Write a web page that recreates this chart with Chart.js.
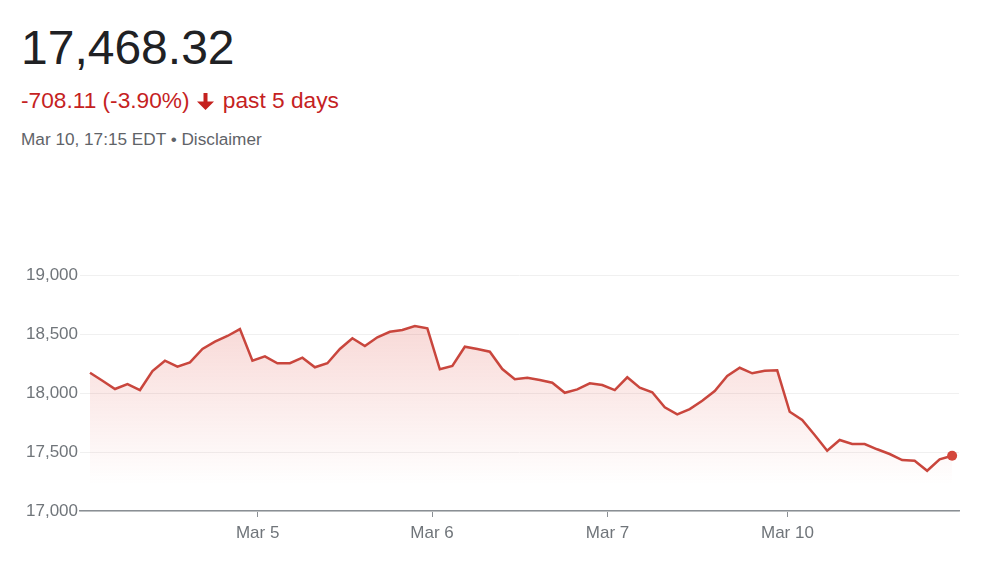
<!DOCTYPE html>
<html>
<head>
<meta charset="utf-8">
<script src="https://cdn.jsdelivr.net/npm/chart.js@4/dist/chart.umd.min.js"></script>
<style>
  html, body { margin: 0; padding: 0; background: #fff; }
  body { width: 1000px; height: 562px; position: relative; overflow: hidden; font-family: Arial, "Liberation Sans", sans-serif; }
  #price { position: absolute; left: 21px; top: 20px; font-size: 48px; color: #202124; }
  #change { position: absolute; left: 21px; top: 87px; font-size: 22.7px; color: #c5221f; white-space: nowrap; }
  #change svg { vertical-align: -2px; margin: 0 3px 0 7px; }
  #stamp { position: absolute; left: 21px; top: 129px; font-size: 17.2px; color: #5f6368; }
  #wrap { position: absolute; left: 0; top: 0; width: 1000px; height: 562px; }
</style>
</head>
<body>
<div id="price">17,468.32</div>
<div id="change">-708.11 (-3.90%)<svg width="17" height="17" viewBox="0 0 17 17"><path fill="#c5221f" d="M6.5 0h4v8.5h6.5L8.5 17 0 8.5h6.5z"/></svg> past 5 days</div>
<div id="stamp">Mar 10, 17:15 EDT • Disclaimer</div>
<div id="wrap"><canvas id="myChart" width="1000" height="562"></canvas></div>
<script>
// Kurswerte (ein Punkt pro ca. halbe Stunde, 5 Handelstage)
const prices = [
  18172, 18104, 18034, 18076, 18025, 18186, 18274, 18223, 18260, 18373, 18435, 18483, 18542,
  18274, 18311, 18252, 18252, 18299, 18218, 18252, 18373, 18464, 18398, 18472, 18519, 18534, 18568, 18548,
  18201, 18229, 18392, 18373, 18350, 18203, 18116, 18130, 18110, 18087, 18002, 18031, 18082, 18068,
  18025, 18133, 18045, 18006, 17879, 17819, 17864, 17935, 18017, 18144, 18214, 18167, 18189, 18192,
  17841, 17771, 17644, 17511, 17602, 17568, 17568, 17523, 17483, 17432, 17426, 17341, 17438, 17468.32
];
// Tagesbeschriftungen der X-Achse und ihre Lage (in Punkt-Index)
const dayLabels = ['Mar 5', 'Mar 6', 'Mar 7', 'Mar 10'];
const dayTickAt = [13.42, 27.38, 41.42, 55.82];
// Y-Achse
const yTicks = [17000, 17500, 18000, 18500, 19000];

const points = prices.map((v, i) => ({ x: i, y: v }));

const config = {
  type: 'line',
  data: {
    datasets: [{
      data: points,
      borderColor: '#c9463d',
      borderWidth: 2.5,
      tension: 0,
      fill: 'start',
      backgroundColor: (ctx) => {
        const area = ctx.chart.chartArea;
        if (!area) return 'rgba(217,48,37,0.1)';
        const g = ctx.chart.ctx.createLinearGradient(0, area.top, 0, area.top + 210);
        g.addColorStop(0, 'rgba(217,48,37,0.24)');
        g.addColorStop(1, 'rgba(217,48,37,0)');
        return g;
      },
      pointRadius: points.map((p, i) => i === points.length - 1 ? 5 : 0),
      pointBackgroundColor: '#d4473c',
      pointBorderWidth: 0,
      pointHoverRadius: 0
    }]
  },
  options: {
    responsive: false,
    animation: false,
    layout: { padding: { top: 275, right: 41, left: 0, bottom: 0 } },
    plugins: { legend: { display: false }, tooltip: { enabled: false } },
    scales: {
      x: {
        type: 'linear',
        min: -0.8,
        max: 69.55,
        afterBuildTicks: (scale) => { scale.ticks = dayTickAt.map(v => ({ value: v })); },
        afterFit: (scale) => { scale.height = 51; },
        ticks: {
          autoSkip: false,
          maxRotation: 0,
          padding: 6,
          color: '#70757a',
          font: { family: 'Arial', size: 17 },
          callback: (v) => dayLabels[dayTickAt.indexOf(v)]
        },
        grid: { drawOnChartArea: false, drawTicks: true, tickLength: 6, color: '#8a8f94', lineWidth: 1 },
        border: { display: true, color: '#8a8f94', width: 1.5 }
      },
      y: {
        min: 17000,
        max: 19000,
        afterBuildTicks: (scale) => { scale.ticks = yTicks.map(v => ({ value: v })); },
        afterFit: (scale) => { scale.width = 80; },
        ticks: {
          padding: 2,
          color: '#70757a',
          font: { family: 'Arial', size: 17 },
          callback: (v) => v.toLocaleString('en-US')
        },
        grid: { drawTicks: false, color: '#f0f0f0', lineWidth: 1 },
        border: { display: false }
      }
    }
  }
};

new Chart(document.getElementById('myChart'), config);
</script>
</body>
</html>
